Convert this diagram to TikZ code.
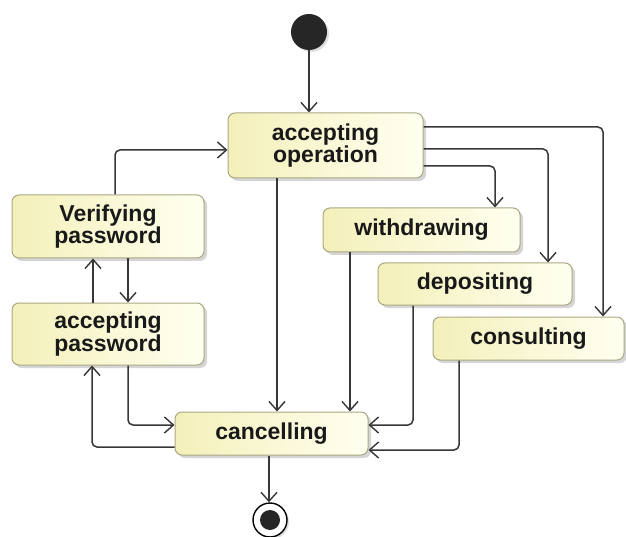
\documentclass[tikz,border=0pt]{standalone}
\usepackage{fontspec}
\setmainfont{Liberation Sans}
\usetikzlibrary{arrows.meta,shadows}
\definecolor{boxY}{RGB}{244,240,186}
\definecolor{boxW}{RGB}{255,255,240}
\definecolor{boxB}{RGB}{170,168,130}
\definecolor{lineC}{RGB}{55,55,55}
\definecolor{txtC}{RGB}{25,25,25}
\tikzset{
  state/.style={draw=boxB, line width=1pt, rounded corners=7pt, left color=boxY, right color=boxW,
    drop shadow={shadow xshift=3pt, shadow yshift=-3pt, fill=gray!60, opacity=.55},
    font=\fontsize{23}{22.5}\selectfont\bfseries, text=txtC, align=center, inner sep=0pt},
  conn/.style={draw=lineC, line width=1.5pt, rounded corners=5pt,
    -{Straight Barb[length=9pt,width=16pt,line width=1.4pt]}},
}
\begin{document}
\begin{tikzpicture}[x=1pt,y=-1pt]
\useasboundingbox (0,0) rectangle (626,537);
% initial
\node[circle, fill=black!85, minimum size=36pt, inner sep=0pt,
  drop shadow={shadow xshift=2pt, shadow yshift=-2pt, fill=gray!50, opacity=.5}] (init) at (309,32) {};
% states
\node[state, minimum width=195pt, minimum height=65pt] (op) at (325.5,145.5) {accepting\\operation};
\node[state, minimum width=192pt, minimum height=63pt] (ver) at (108,226.5) {Verifying\\password};
\node[state, minimum width=192pt, minimum height=62pt] (accp) at (108,334) {accepting\\password};
\node[state, minimum width=197pt, minimum height=44pt] (wd) at (421.5,230) {withdrawing};
\node[state, minimum width=194pt, minimum height=42pt] (dep) at (475,284) {depositing};
\node[state, minimum width=191pt, minimum height=43pt] (con) at (528.5,338.5) {consulting};
\node[state, minimum width=193pt, minimum height=43pt] (can) at (271.5,433.5) {cancelling};
% final
\node[circle, draw=black, line width=1.4pt, fill=white, minimum size=34pt, inner sep=0pt,
  drop shadow={shadow xshift=2pt, shadow yshift=-2pt, fill=gray!50, opacity=.5}] (fin) at (270,520) {};
\node[circle, fill=black!85, minimum size=20pt, inner sep=0pt] (finin) at (fin.center) {};
% connectors
\draw[conn] (init.south -| 309,0) -- (309,0 |- op.north);
\draw[conn] (277,0 |- op.south) -- (277,0 |- can.north);
\draw[conn] (350,0 |- wd.south) -- (350,0 |- can.north);
\draw[conn] (413,0 |- dep.south) |- (can.east |- 0,425);
\draw[conn] (459,0 |- con.south) |- (can.east |- 0,450);
\draw[conn] (128,0 |- accp.south) |- (can.west |- 0,425);
\draw[conn] (can.west |- 0,447) -| (92,0 |- accp.south);
\draw[conn] (93,0 |- accp.north) -- (93,0 |- ver.south);
\draw[conn] (128,0 |- ver.south) -- (128,0 |- accp.north);
\draw[conn] (115,0 |- ver.north) |- (op.west |- 0,150);
\draw[conn] (op.east |- 0,166) -| (495,0 |- wd.north);
\draw[conn] (op.east |- 0,149) -| (548,0 |- dep.north);
\draw[conn] (op.east |- 0,127) -| (603,0 |- con.north);
\draw[conn] (269,0 |- can.south) -- (269,0 |- fin.north);
\end{tikzpicture}
\end{document}
